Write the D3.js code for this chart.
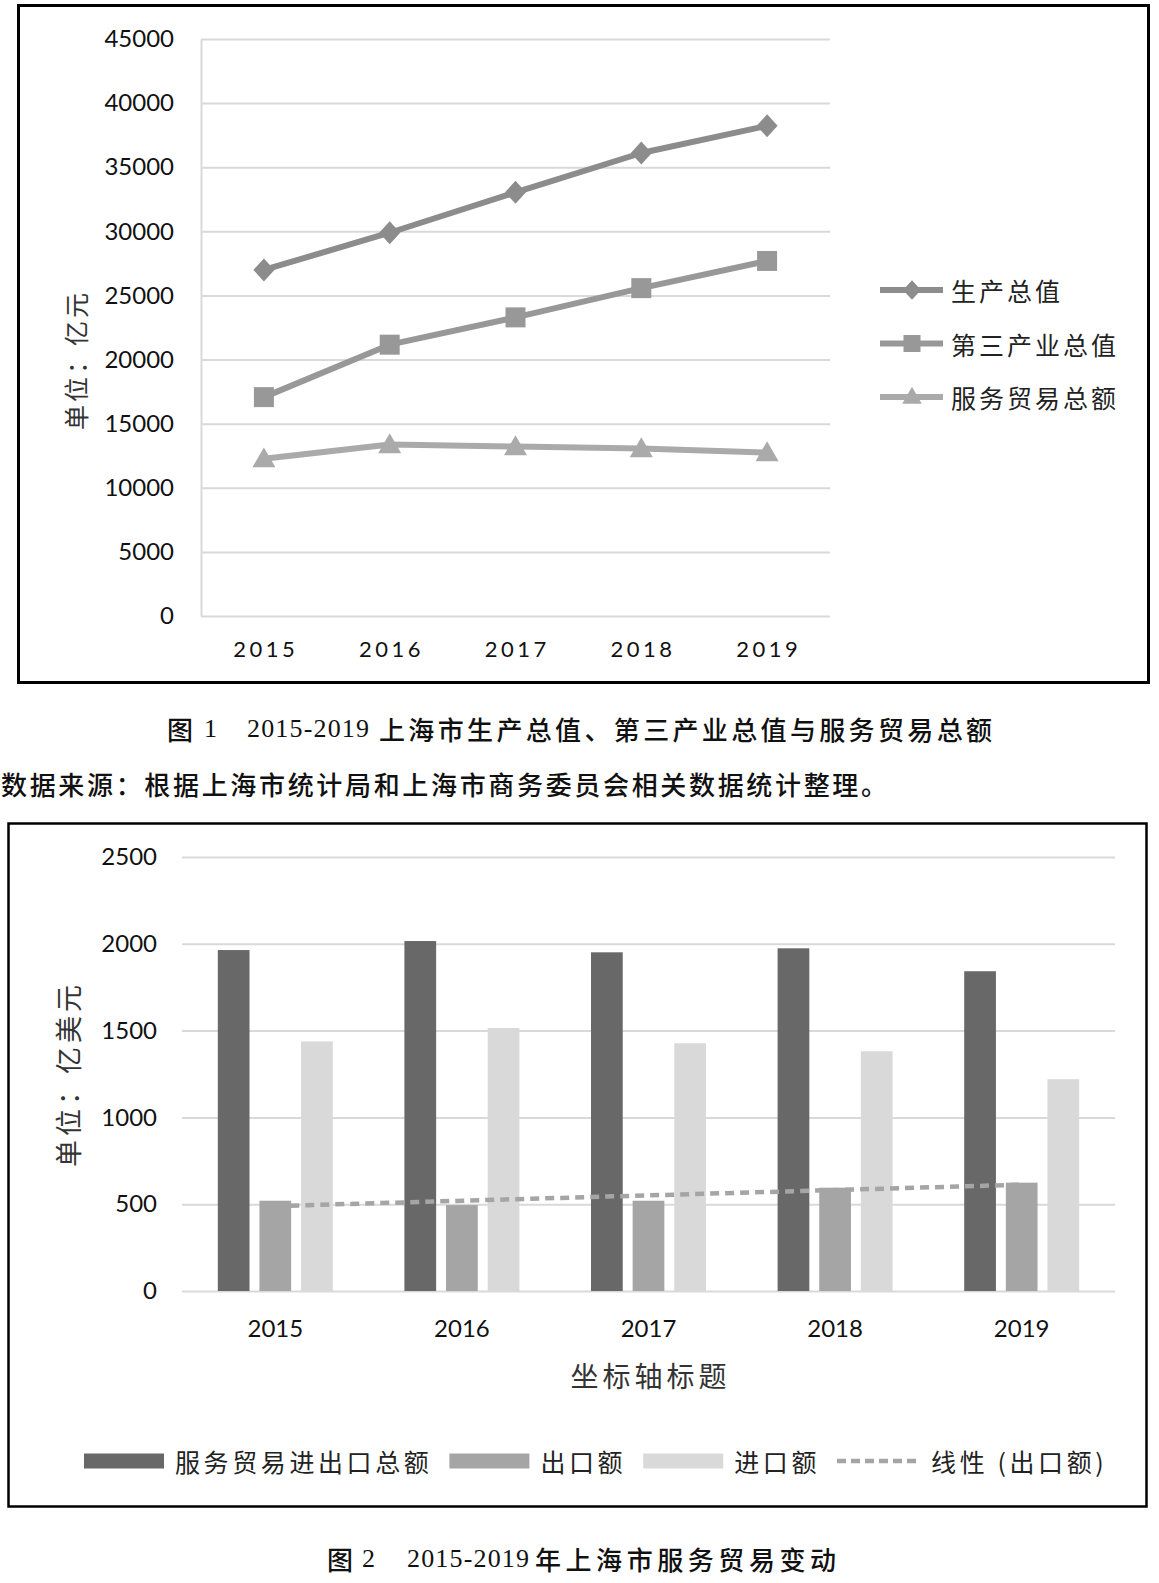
<!DOCTYPE html>
<html><head><meta charset="utf-8">
<script src="https://cdn.jsdelivr.net/npm/d3@7"></script>
<style>
html,body{margin:0;padding:0;background:#fff;}
svg{display:block;}
</style></head><body>
<svg id="c" width="1159" height="1583"></svg>
<script>
// ---------- DATA ----------
const years = ["2015","2016","2017","2018","2019"];
const gdpValues = [26990, 29890, 33040, 36110, 38230];
const tertiaryValues = [17070, 21160, 23290, 25570, 27690];
const serviceTotalRmb = [12270, 13370, 13220, 13060, 12750];
const lineSeriesNames = ["生产总值","第三产业总值","服务贸易总额"];
const topTicks = [0,5000,10000,15000,20000,25000,30000,35000,40000,45000];

const tradeTotal = [1964, 2016, 1951, 1974, 1842];
const tradeExport = [520, 495, 520, 595, 624];
const tradeImport = [1438, 1515, 1427, 1381, 1220];
const barSeriesNames = ["服务贸易进出口总额","出口额","进口额"];
const trendName = "线性 (出口额)";
const bottomTicks = [0,500,1000,1500,2000,2500];

const caption1 = ["图","1","2015-2019","上海市生产总值、第三产业总值与服务贸易总额"];
const sourceText = "数据来源：根据上海市统计局和上海市商务委员会相关数据统计整理。";
const caption2 = ["图","2","2015-2019","年上海市服务贸易变动"];
const topYTitle = "单位：亿元";
const bottomYTitle = "单位：亿美元";
const bottomXTitle = "坐标轴标题";

// ---------- STYLE ----------
const NUM = "Lato, 'Open Sans', sans-serif";
const CJK = "'Noto Sans CJK SC', sans-serif";
const SERIF = "'Liberation Serif', 'Noto Sans CJK SC', serif";
const GRID = "#d9d9d9";
const lineColors = ["#8c8c8c", "#989898", "#aaaaaa"];
const barColors = ["#686868", "#a5a5a5", "#d9d9d9"];

const svg = d3.select("#c");
svg.append("rect").attr("width",1159).attr("height",1583).attr("fill","#fff");

// ================= TOP CHART =================
svg.append("rect").attr("x",18.5).attr("y",5.5).attr("width",1130).attr("height",677)
  .attr("fill","none").attr("stroke","#000").attr("stroke-width",3);

const tL = 201, tR = 830, tT = 39, tB = 616;
const xT = d3.scaleBand().domain(years).range([tL, tR]).padding(0);
const yT = d3.scaleLinear().domain([0, 45000]).range([tB, tT]);
const cx = d => xT(d) + xT.bandwidth()/2;

const gyT = svg.append("g").attr("transform",`translate(${tL},0)`)
  .call(d3.axisLeft(yT).tickValues(topTicks).tickSizeInner(-(tR-tL)).tickSizeOuter(0).tickPadding(27).tickFormat(d3.format("d")));
gyT.select(".domain").attr("stroke",GRID).attr("stroke-width",2);
gyT.selectAll(".tick line").attr("stroke",GRID).attr("stroke-width",2);
gyT.selectAll(".tick text").attr("font-family",NUM).attr("font-size",24).attr("fill","#111");

const gxT = svg.append("g").attr("transform",`translate(0,${tB})`)
  .call(d3.axisBottom(xT).tickSize(0).tickPadding(25));
gxT.select(".domain").remove();
gxT.selectAll(".tick text").attr("font-family",NUM).attr("font-size",22).attr("fill","#111")
  .attr("letter-spacing","3.5px").attr("dx","1.75px");

const lineSeries = [gdpValues, tertiaryValues, serviceTotalRmb];
const diamond = (w,h) => `M0,${-h/2}L${w/2},0L0,${h/2}L${-w/2},0Z`;
const markerPath = (i, s) => {
  if (i === 0) return diamond(21*s, 23*s);
  if (i === 1) return d3.symbol().type(d3.symbolSquare).size(Math.pow(20*s,2))();
  return d3.symbol().type(d3.symbolTriangle).size(Math.sqrt(3)/4*Math.pow(23*s,2))();
};
const lineGen = d3.line().x((d,i)=>cx(years[i])).y(d=>yT(d));

lineSeries.forEach((vals, i) => {
  svg.append("path").attr("d", lineGen(vals)).attr("fill","none")
    .attr("stroke", lineColors[i]).attr("stroke-width",6).attr("stroke-linejoin","round");
  svg.selectAll(null).data(vals).enter().append("path")
    .attr("d", markerPath(i,1))
    .attr("transform",(d,j)=>`translate(${cx(years[j])},${yT(d) + (i===2?2:0)})`)
    .attr("fill", lineColors[i]);
});

// legend top
const legT = svg.append("g");
lineSeriesNames.forEach((name, i) => {
  const yy = 290 + i*53.5;
  legT.append("line").attr("x1",880).attr("x2",943).attr("y1",yy).attr("y2",yy)
    .attr("stroke",lineColors[i]).attr("stroke-width",6);
  legT.append("path").attr("d", markerPath(i,0.85)).attr("transform",`translate(912,${yy + (i===2?1:0)})`)
    .attr("fill",lineColors[i]);
  legT.append("text").attr("x",951).attr("y",yy).attr("dominant-baseline","central")
    .attr("font-family",CJK).attr("font-size",25).attr("letter-spacing","3px").attr("fill","#222")
    .text(name);
});

// y title top
svg.append("text").attr("transform","translate(75,360) rotate(-90)")
  .attr("text-anchor","middle").attr("dominant-baseline","central")
  .attr("font-family",CJK).attr("font-size",25).attr("letter-spacing","3px").attr("fill","#333")
  .text(topYTitle);

// captions
function caption(parts, xs, lens, yC, size){
  const fams = [CJK, SERIF, SERIF, CJK];
  parts.forEach((p,i)=>{
    const t = svg.append("text").attr("x",xs[i]).attr("y",yC).attr("dominant-baseline","central")
      .attr("font-family",fams[i]).attr("font-size",size).attr("font-weight", i===0||i===3 ? 500 : 400)
      .attr("fill","#111").text(p);
    if (lens[i]) t.attr("textLength",lens[i]).attr("lengthAdjust","spacing");
  });
}
caption(caption1, [167, 204, 247, 379], [0, 0, 122, 613], 728, 26);

svg.append("text").attr("x",1).attr("y",783).attr("dominant-baseline","central")
  .attr("font-family",CJK).attr("font-size",26).attr("font-weight",500).attr("fill","#111")
  .attr("textLength",886).attr("lengthAdjust","spacing").text(sourceText);

// ================= BOTTOM CHART =================
svg.append("rect").attr("x",8.5).attr("y",823.5).attr("width",1138).attr("height",683)
  .attr("fill","none").attr("stroke","#000").attr("stroke-width",2.5);

const bL = 182, bR = 1115, bT = 857, bB = 1291;
const xB = d3.scaleBand().domain(years).range([bL, bR]).padding(0);
const x1 = d3.scaleBand().domain([0,1,2]).range([-57.5, 57.5]).paddingInner(10/42).paddingOuter(0);
const yB = d3.scaleLinear().domain([0, 2500]).range([bB, bT]);

const gyB = svg.append("g").attr("transform",`translate(${bL},0)`)
  .call(d3.axisLeft(yB).tickValues(bottomTicks).tickSizeInner(-(bR-bL)).tickSizeOuter(0).tickPadding(25).tickFormat(d3.format("d")));
gyB.select(".domain").remove();
gyB.selectAll(".tick line").attr("stroke",GRID).attr("stroke-width",2);
gyB.selectAll(".tick text").attr("font-family",NUM).attr("font-size",24).attr("fill","#111");

const gxB = svg.append("g").attr("transform",`translate(0,${bB})`)
  .call(d3.axisBottom(xB).tickSize(0).tickPadding(29));
gxB.select(".domain").remove();
gxB.selectAll(".tick text").attr("font-family",NUM).attr("font-size",24).attr("fill","#111");

const barSeries = [tradeTotal, tradeExport, tradeImport];
const gc = d => xB(d) + xB.bandwidth()/2;
barSeries.forEach((vals, s) => {
  svg.selectAll(null).data(vals).enter().append("rect")
    .attr("x",(d,j)=> gc(years[j]) + x1(s))
    .attr("width", x1.bandwidth())
    .attr("y", d => yB(d))
    .attr("height", d => bB - yB(d))
    .attr("fill", barColors[s]);
});

// linear trendline of export (least squares over category index)
const n = tradeExport.length;
const xs = d3.range(1, n+1);
const mx = d3.mean(xs), my = d3.mean(tradeExport);
const slope = d3.sum(xs.map((x,i)=>(x-mx)*(tradeExport[i]-my))) / d3.sum(xs.map(x=>(x-mx)*(x-mx)));
const icpt = my - slope*mx;
const trendPts = [0, n-1].map(i => [gc(years[i]) + x1(1) + x1.bandwidth()/2, yB(icpt + slope*(i+1))]);
svg.append("path").attr("d", d3.line()(trendPts)).attr("fill","none")
  .attr("stroke","#a5a5a5").attr("stroke-width",4.5).attr("stroke-dasharray","9,6").attr("stroke-linecap","butt");

// axis titles
svg.append("text").attr("x",(bL+bR)/2).attr("y",1375).attr("text-anchor","middle").attr("dominant-baseline","central")
  .attr("font-family",CJK).attr("font-size",28).attr("letter-spacing","4px").attr("dx","2px").attr("fill","#333")
  .text(bottomXTitle);
svg.append("text").attr("transform","translate(67,1074) rotate(-90)")
  .attr("text-anchor","middle").attr("dominant-baseline","central")
  .attr("font-family",CJK).attr("font-size",27).attr("letter-spacing","4px").attr("fill","#333")
  .text(bottomYTitle);

// legend bottom
const legB = svg.append("g");
const legItems = barSeriesNames.map((nm,i)=>({name:nm, kind:"bar", color:barColors[i]}))
  .concat([{name:trendName, kind:"dash", color:"#a5a5a5"}]);
let lx = 84; const ly = 1461;
legItems.forEach((it, i) => {
  if (it.kind === "bar") {
    legB.append("rect").attr("x",lx).attr("y",ly-7.5).attr("width",80).attr("height",15).attr("fill",it.color);
  } else {
    legB.append("line").attr("x1",lx).attr("x2",lx+83).attr("y1",ly).attr("y2",ly)
      .attr("stroke",it.color).attr("stroke-width",4.5).attr("stroke-dasharray","9,5");
  }
  lx += (it.kind === "bar" ? 80 : 83) + 11;
  const t = legB.append("text").attr("x",lx).attr("y",ly).attr("dominant-baseline","central")
    .attr("font-family",CJK).attr("font-size",25).attr("letter-spacing","3.6px").attr("fill","#222").text(it.name);
  lx += t.node().getComputedTextLength() + 17;
});

// caption 2
caption(caption2, [327, 362, 407, 535], [0, 0, 122, 301], 1558, 26);
</script>
</body></html>
